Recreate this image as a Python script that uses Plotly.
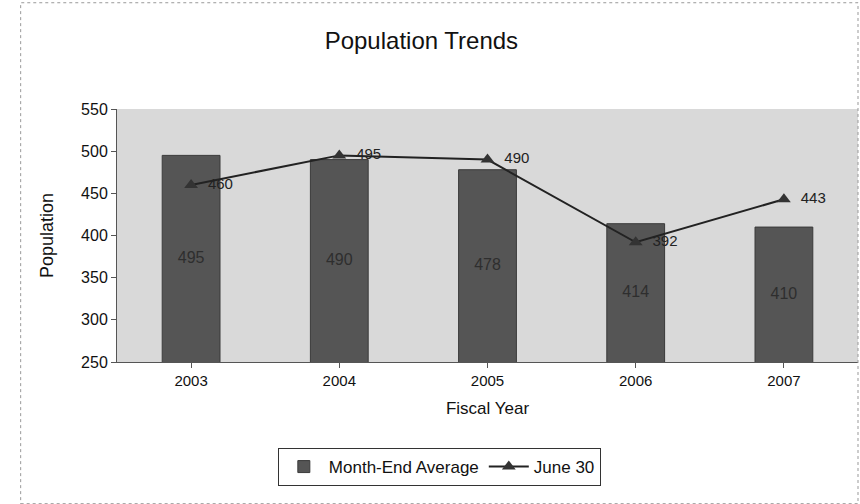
import plotly.graph_objects as go

years = ["2003", "2004", "2005", "2006", "2007"]
month_end_avg = [495, 490, 478, 414, 410]
june_30 = [460, 495, 490, 392, 443]
y_min, y_max = 250, 550

FONT = "Arial, Liberation Sans, sans-serif"

fig = go.Figure()
fig.add_trace(go.Bar(
    x=years, y=month_end_avg, name="Month-End Average",
    marker=dict(color="#555555", line=dict(color="#3a3a3a", width=1)),
    width=0.39, hoverinfo="x+y",
))
# bar value labels centered in the visible part of each bar
fig.add_trace(go.Scatter(
    x=years, y=[(y_min + v) / 2 for v in month_end_avg], mode="text",
    text=[str(v) for v in month_end_avg], showlegend=False, hoverinfo="skip",
    textfont=dict(color="#2e2e2e", size=16, family=FONT),
))
fig.add_trace(go.Scatter(
    x=years, y=june_30, name="June 30", mode="lines+markers+text",
    line=dict(color="#222222", width=2),
    marker=dict(symbol="triangle-up", size=12, color="#333333"),
    text=["  " + str(v) for v in june_30], textposition="middle right",
    textfont=dict(color="#222222", size=15, family=FONT),
))

fig.update_layout(
    width=860, height=504,
    paper_bgcolor="white", plot_bgcolor="#d9d9d9",
    margin=dict(l=117, r=2, t=109, b=142),
    font=dict(family=FONT, color="#111111", size=14),
    title=dict(text="Population Trends", x=0.49, xanchor="center", y=0.92, yanchor="middle",
               font=dict(size=24, family=FONT, color="#111111")),
    showlegend=True,
    legend=dict(orientation="h", x=0.435, xanchor="center", y=-0.34, yanchor="top",
                bordercolor="#333333", borderwidth=1, bgcolor="white",
                font=dict(size=17, family=FONT), itemwidth=40),
    xaxis=dict(title=dict(text="Fiscal Year", font=dict(size=17), standoff=14),
               showline=True, linecolor="#555555", ticks="outside", tickcolor="#555555",
               tickfont=dict(size=15)),
    yaxis=dict(title=dict(text="Population", font=dict(size=18), standoff=22),
               range=[y_min, y_max], dtick=50, showgrid=False, zeroline=False,
               showline=True, linecolor="#555555", ticks="outside", tickcolor="#555555",
               ticklen=5, tickfont=dict(size=16)),
    shapes=[dict(type="rect", xref="paper", yref="paper", x0=-0.13, x1=1.0, y0=-0.56, y1=1.42,
                 line=dict(color="#999999", width=1, dash="dot"))],
)

fig.write_html("out.html")
